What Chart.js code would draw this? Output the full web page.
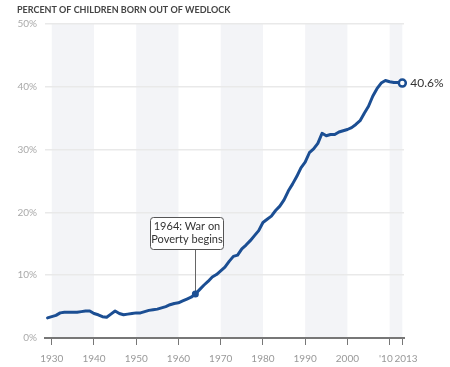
<!DOCTYPE html>
<html>
<head>
<meta charset="utf-8">
<script src="https://cdn.jsdelivr.net/npm/chart.js@4"></script>
<style>
  html, body { margin: 0; padding: 0; background: #fff; }
  #wrap { width: 450px; height: 367px; }
</style>
</head>
<body>
<div id="wrap"><canvas id="chart" width="450" height="367"></canvas></div>
<script>
const TITLE = 'PERCENT OF CHILDREN BORN OUT OF WEDLOCK';

const years = [
  1929, 1930, 1931, 1932, 1933, 1934, 1935, 1936, 1937, 1938, 1939,
  1940, 1941, 1942, 1943, 1944, 1945, 1946, 1947, 1948, 1949,
  1950, 1951, 1952, 1953, 1954, 1955, 1956, 1957, 1958, 1959,
  1960, 1961, 1962, 1963, 1964, 1965, 1966, 1967, 1968, 1969,
  1970, 1971, 1972, 1973, 1974, 1975, 1976, 1977, 1978, 1979,
  1980, 1981, 1982, 1983, 1984, 1985, 1986, 1987, 1988, 1989,
  1990, 1991, 1992, 1993, 1994, 1995, 1996, 1997, 1998, 1999,
  2000, 2001, 2002, 2003, 2004, 2005, 2006, 2007, 2008, 2009,
  2010, 2011, 2012, 2013
];

const percents = [
  3.2, 3.4, 3.6, 4.0, 4.1, 4.1, 4.1, 4.1, 4.2, 4.3, 4.3,
  3.9, 3.7, 3.4, 3.3, 3.8, 4.3, 3.9, 3.7, 3.8, 3.9,
  4.0, 4.0, 4.2, 4.4, 4.5, 4.6, 4.8, 5.0, 5.3, 5.5,
  5.6, 5.9, 6.2, 6.5, 7.0, 7.7, 8.4, 9.0, 9.7, 10.1,
  10.7, 11.3, 12.2, 13.0, 13.2, 14.2, 14.8, 15.5, 16.3, 17.1,
  18.4, 18.9, 19.4, 20.3, 21.0, 22.0, 23.4, 24.5, 25.7, 27.1,
  28.0, 29.5, 30.1, 31.0, 32.6, 32.2, 32.4, 32.4, 32.8, 33.0,
  33.2, 33.5, 34.0, 34.6, 35.8, 36.9, 38.5, 39.7, 40.6, 41.0,
  40.8, 40.7, 40.7, 40.6
];

const tickYears = [1930, 1940, 1950, 1960, 1970, 1980, 1990, 2000, 2010, 2013];
// espacos afastam '10 e 2013, que ficam muito juntos
const tickLabels = ['1930', '1940', '1950', '1960', '1970', '1980', '1990', '2000', "'10\u2003", '\u20032013'];
const yTicks = [0, 10, 20, 30, 40, 50];

const bands = [[1930, 1940], [1950, 1960], [1970, 1980], [1990, 2000], [2010, 2013]];

const noteYear = 1964;
const noteLines = ['1964: War on', 'Poverty begins'];

const BLUE = '#1b4e93';
const FONT = 'Lato, "Open Sans", sans-serif';

const noteIndex = years.indexOf(noteYear);
const lastIndex = years.length - 1;

// faixas cinza por decada, atras das linhas de grade
const bandsPlugin = {
  id: 'bands',
  beforeDraw(chart) {
    const { ctx, chartArea, scales: { x } } = chart;
    ctx.save();
    ctx.fillStyle = '#f3f4f7';
    bands.forEach(([a, b]) => {
      const x0 = x.getPixelForValue(a);
      const x1 = x.getPixelForValue(b);
      ctx.fillRect(x0, chartArea.top, x1 - x0, chartArea.bottom - chartArea.top);
    });
    ctx.restore();
  }
};

const notesPlugin = {
  id: 'notes',
  beforeDatasetsDraw(chart) {
    const { ctx } = chart;
    const p = chart.getDatasetMeta(0).data[noteIndex];
    ctx.save();
    ctx.strokeStyle = '#666';
    ctx.lineWidth = 1;
    ctx.beginPath();
    ctx.moveTo(Math.round(p.x) + 0.5, p.y - 45);
    ctx.lineTo(Math.round(p.x) + 0.5, p.y);
    ctx.stroke();
    ctx.restore();
  },
  afterDatasetsDraw(chart) {
    const { ctx } = chart;
    const p = chart.getDatasetMeta(0).data[noteIndex];
    const w = 73, h = 32;
    const bx = Math.round(p.x - 9 - w / 2) + 0.5;
    const by = Math.round(p.y - 45 - h) + 0.5;

    ctx.save();
    ctx.fillStyle = '#fff';
    ctx.strokeStyle = '#555';
    ctx.lineWidth = 1;
    ctx.beginPath();
    ctx.roundRect(bx, by, w, h, 3);
    ctx.fill();
    ctx.stroke();

    ctx.fillStyle = '#333';
    ctx.font = '11px ' + FONT;
    ctx.textAlign = 'center';
    ctx.textBaseline = 'middle';
    noteLines.forEach((t, i) => {
      ctx.fillText(t, bx + w / 2, by + 9 + i * 13);
    });

    // rotulo do ultimo valor
    const last = chart.getDatasetMeta(0).data[lastIndex];
    ctx.font = '12px ' + FONT;
    ctx.textAlign = 'left';
    ctx.fillText(percents[lastIndex].toFixed(1) + '%', last.x + 8, last.y);

    // titulo
    ctx.fillStyle = '#444';
    ctx.font = 'bold 9px ' + FONT;
    ctx.fillText(TITLE, 17, 10);
    ctx.restore();
  }
};

const chart = new Chart(document.getElementById('chart'), {
  type: 'line',
  data: {
    datasets: [{
      data: years.map((y, i) => ({ x: y, y: percents[i] })),
      borderColor: BLUE,
      borderWidth: 3,
      borderCapStyle: 'round',
      borderJoinStyle: 'round',
      tension: 0,
      clip: false,
      pointRadius: ctx => ctx.dataIndex === noteIndex ? 3.5 : (ctx.dataIndex === lastIndex ? 3.5 : 0),
      pointBackgroundColor: ctx => ctx.dataIndex === lastIndex ? '#fff' : BLUE,
      pointBorderColor: BLUE,
      pointBorderWidth: ctx => ctx.dataIndex === lastIndex ? 2.5 : 0,
      pointHoverRadius: 0
    }]
  },
  options: {
    responsive: false,
    animation: false,
    devicePixelRatio: 1,
    layout: { padding: { top: 24, right: 46, bottom: 0, left: 0 } },
    plugins: {
      legend: { display: false },
      tooltip: { enabled: false }
    },
    scales: {
      x: {
        type: 'linear',
        min: 1928.4,
        max: 2013.4,
        afterBuildTicks: scale => {
          scale.ticks = tickYears.map(v => ({ value: v }));
        },
        afterFit: scale => { scale.height = 29; },
        ticks: {
          autoSkip: false,
          maxRotation: 0,
          padding: 8,
          color: '#999',
          font: { family: FONT, size: 10 },
          callback: v => tickLabels[tickYears.indexOf(v)]
        },
        grid: {
          drawOnChartArea: false,
          drawTicks: true,
          tickLength: 7,
          color: '#777',
          lineWidth: 1
        },
        border: { display: true, color: '#777', width: 2 }
      },
      y: {
        min: 0,
        max: 50,
        afterBuildTicks: scale => {
          scale.ticks = yTicks.map(v => ({ value: v }));
        },
        afterFit: scale => { scale.width = 45; },
        ticks: {
          padding: 8,
          color: '#aaa',
          font: { family: FONT, size: 10 },
          callback: v => v + '%'
        },
        grid: {
          drawTicks: false,
          color: '#e9e9e9',
          lineWidth: 1.5
        },
        border: { display: false }
      }
    }
  },
  plugins: [bandsPlugin, notesPlugin]
});
</script>
</body>
</html>
